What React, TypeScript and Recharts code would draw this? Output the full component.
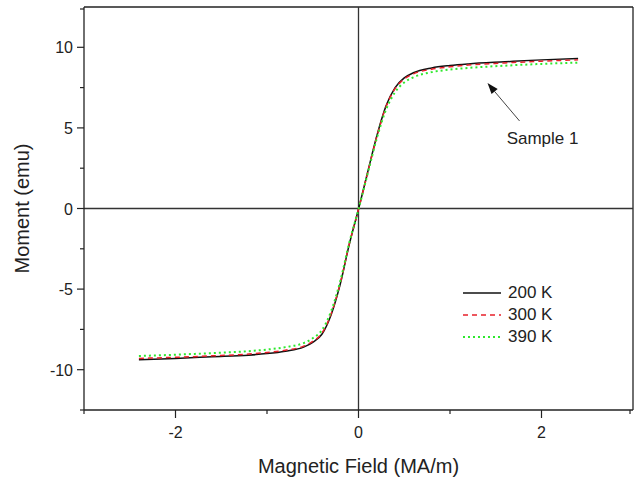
import { LineChart, Line, XAxis, YAxis, ReferenceLine } from 'recharts';

const FIELD = [-2.4, -2.0, -1.6, -1.2, -1.0, -0.8, -0.6, -0.5, -0.4, -0.3, -0.2, -0.1, 0, 0.1, 0.2, 0.3, 0.4, 0.5, 0.6, 0.8, 1.0, 1.2, 1.6, 2.0, 2.4];
const M200 = [-9.38, -9.3, -9.2, -9.1, -9.0, -8.85, -8.6, -8.3, -7.8, -6.6, -4.7, -2.2, -0.05, 2.25, 4.5, 6.35, 7.5, 8.1, 8.42, 8.72, 8.87, 8.97, 9.1, 9.22, 9.3];
const M300 = [-9.3, -9.23, -9.14, -9.03, -8.93, -8.79, -8.54, -8.24, -7.74, -6.55, -4.65, -2.18, -0.05, 2.22, 4.45, 6.3, 7.44, 8.03, 8.35, 8.64, 8.79, 8.9, 9.03, 9.14, 9.22];
const M390 = [-9.15, -9.07, -8.97, -8.85, -8.75, -8.6, -8.35, -8.05, -7.55, -6.38, -4.52, -2.1, -0.05, 2.15, 4.35, 6.12, 7.22, 7.82, 8.14, 8.46, 8.62, 8.72, 8.86, 8.97, 9.05];
const SERIES = [
  { key: 'm200', name: '200 K', color: '#111111', dash: undefined, width: 1.5 },
  { key: 'm300', name: '300 K', color: '#e8202a', dash: '5 4', width: 1.5 },
  { key: 'm390', name: '390 K', color: '#2ee82e', dash: '2 3', width: 2 },
];
const X_TICKS = [-3, -2, -1, 0, 1, 2, 3];
const Y_TICKS = [-12.5, -10, -7.5, -5, -2.5, 0, 2.5, 5, 7.5, 10, 12.5];

const data = FIELD.map((x, i) => ({ x, m200: M200[i], m300: M300[i], m390: M390[i] }));

const FONT = '"Liberation Sans", Arial, sans-serif';
const INK = '#222';

const YTick = (props: any) => {
  const { x, y, payload } = props;
  const v = payload.value;
  const major = v % 5 === 0;
  return (
    <g>
      <line x1={x - (major ? 7 : 4)} x2={x} y1={y} y2={y} stroke={INK} strokeWidth={1.2} />
      {major && (
        <text x={x - 11} y={y + 6} textAnchor="end" fontSize={16} fill={INK} fontFamily={FONT}>{v}</text>
      )}
    </g>
  );
};

const XTick = (props: any) => {
  const { x, y, payload } = props;
  const v = payload.value;
  const major = v % 2 === 0;
  return (
    <g>
      <line x1={x} x2={x} y1={y} y2={y + (major ? 8 : 4)} stroke={INK} strokeWidth={1.2} />
      {major && (
        <text x={x} y={y + 28} textAnchor="middle" fontSize={16} fill={INK} fontFamily={FONT}>{v}</text>
      )}
    </g>
  );
};

const Arrow = (props: any) => {
  const { x1, y1, x2, y2 } = props;
  const ang = Math.atan2(y1 - y2, x1 - x2);
  const L = 11, W = 4;
  const bx = x1 - L * Math.cos(ang), by = y1 - L * Math.sin(ang);
  const px = -Math.sin(ang) * W, py = Math.cos(ang) * W;
  return (
    <g>
      <line x1={x2} y1={y2} x2={bx} y2={by} stroke="#444" strokeWidth={1} />
      <polygon points={`${x1},${y1} ${bx + px},${by + py} ${bx - px},${by - py}`} fill="#111" />
      <text x={x2 + 23} y={y2 + 23} textAnchor="middle" fontSize={17} fill={INK} fontFamily={FONT}>Sample 1</text>
    </g>
  );
};

const LegendBox = () => (
  <div style={{ position: 'absolute', left: 463, top: 282, fontFamily: FONT, fontSize: 17, color: INK }}>
    {SERIES.map((s) => (
      <div key={s.key} style={{ display: 'flex', alignItems: 'center', height: 22 }}>
        <svg width={45} height={10}>
          <line x1={0} x2={38} y1={5} y2={5} stroke={s.color} strokeWidth={s.width} strokeDasharray={s.dash} />
        </svg>
        <span>{s.name}</span>
      </div>
    ))}
  </div>
);

export default function App() {
  return (
    <div style={{ position: 'absolute', left: 0, top: 0, width: 634, height: 480, background: '#fff' }}>
      <LineChart width={634} height={480} data={data} margin={{ top: 7, right: 1, bottom: 0, left: 0 }}>
        <XAxis
          dataKey="x"
          type="number"
          domain={[-3, 3]}
          ticks={X_TICKS}
          allowDataOverflow
          height={70}
          tickSize={0}
          tickMargin={0}
          tick={<XTick />}
          axisLine={{ stroke: INK, strokeWidth: 1.3 }}
          tickLine={false}
          label={({ viewBox }: any) => (
            <text x={viewBox.x + viewBox.width / 2} y={viewBox.y + 63} textAnchor="middle" fontSize={20} fill={INK} fontFamily={FONT}>
              Magnetic Field (MA/m)
            </text>
          )}
        />
        <YAxis
          type="number"
          domain={[-12.5, 12.5]}
          ticks={Y_TICKS}
          allowDataOverflow
          width={84}
          tickSize={0}
          tickMargin={0}
          tick={<YTick />}
          axisLine={{ stroke: INK, strokeWidth: 1.3 }}
          tickLine={false}
          label={({ viewBox }: any) => {
            const cx = viewBox.x + 29;
            const cy = viewBox.y + viewBox.height / 2;
            return (
              <text x={cx} y={cy} transform={`rotate(-90 ${cx} ${cy})`} textAnchor="middle" fontSize={20} fill={INK} fontFamily={FONT}>
                Moment (emu)
              </text>
            );
          }}
        />
        <ReferenceLine y={12.5} stroke={INK} strokeWidth={1.3} />
        <ReferenceLine x={3} stroke={INK} strokeWidth={1.3} />
        <ReferenceLine y={0} stroke="#333" strokeWidth={1.3} />
        <ReferenceLine x={0} stroke="#333" strokeWidth={1.3} />
        {SERIES.map((s) => (
          <Line
            key={s.key}
            dataKey={s.key}
            name={s.name}
            type="monotone"
            stroke={s.color}
            strokeWidth={s.width}
            strokeDasharray={s.dash}
            dot={false}
            isAnimationActive={false}
          />
        ))}
        <ReferenceLine
          segment={[{ x: 1.41, y: 7.78 }, { x: 1.76, y: 5.43 }]}
          shape={<Arrow />}
        />
      </LineChart>
      <LegendBox />
    </div>
  );
}
